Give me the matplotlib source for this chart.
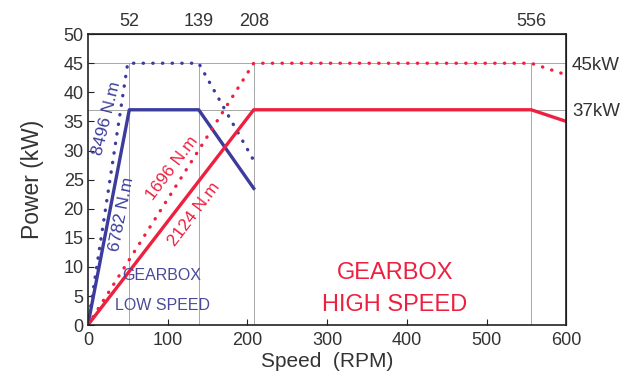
import numpy as np
import matplotlib
matplotlib.use('Agg')
from matplotlib import pyplot as plt

# data
low_solid_x = [0, 52, 139, 208]
low_solid_y = [0, 37, 37, 23.5]
low_dot_x = [0, 50, 139, 208]
low_dot_y = [0, 45, 45, 28.3]
high_solid_x = [0, 208, 556, 600]
high_solid_y = [0, 37, 37, 35]
high_dot_x = [0, 208, 556, 600]
high_dot_y = [0, 45, 45, 43]
top_ticks = [52, 139, 208, 556]
power_levels = [37, 45]

blue = '#3b3c9c'
red = '#ee2040'
grey = '#a8a8a8'
ink = '#333333'

plt.rcParams['font.family'] = ['Liberation Sans', 'DejaVu Sans']
plt.rcParams['text.color'] = ink

fig = plt.figure(figsize=(6.23, 3.75), dpi=100)
ax = fig.add_axes([0.141, 0.133, 0.768, 0.776])

for p in power_levels:
    ax.axhline(p, color=grey, lw=0.7, zorder=1)
for t in top_ticks:
    ax.plot([t, t], [0, 45], color=grey, lw=0.7, zorder=1)

dots = (0, (0.1, 2.8))
ax.plot(low_dot_x, low_dot_y, color=blue, lw=2.4, ls=dots, dash_capstyle='round')
ax.plot(low_solid_x, low_solid_y, color=blue, lw=2.4)
ax.plot(high_dot_x, high_dot_y, color=red, lw=2.4, ls=dots, dash_capstyle='round')
ax.plot(high_solid_x, high_solid_y, color=red, lw=2.4)

ax.text(24, 35.5, '8496 N.m', color=blue, rotation=76, fontsize=12.5, ha='center', va='center')
ax.text(43, 19, '6782 N.m', color=blue, rotation=79, fontsize=12.5, ha='center', va='center')
ax.text(106, 27, '1696 N.m', color=red, rotation=53, fontsize=12.5, ha='center', va='center')
ax.text(133, 19, '2124 N.m', color=red, rotation=53, fontsize=12.5, ha='center', va='center')

ax.text(93, 8.6, 'GEARBOX', color='#4a4a9a', fontsize=11.5, ha='center', va='center')
ax.text(93, 3.3, 'LOW SPEED', color='#4a4a9a', fontsize=11.5, ha='center', va='center')
ax.text(385, 8.9, 'GEARBOX', color=red, fontsize=17, ha='center', va='center')
ax.text(385, 3.4, 'HIGH SPEED', color=red, fontsize=17, ha='center', va='center')

ax.set_xlim(0, 600)
ax.set_ylim(0, 50)
ax.set_xticks(np.arange(0, 601, 100))
ax.set_yticks(np.arange(0, 51, 5))
ax.tick_params(direction='in', labelsize=13, length=4, pad=3, colors='#222222', labelcolor=ink)
ax.tick_params(axis='x', pad=5)
for s in ax.spines.values():
    s.set_linewidth(1.2)
    s.set_color('#222222')

top = ax.secondary_xaxis('top')
top.set_xticks(top_ticks)
top.tick_params(length=0, labelsize=13, pad=3, labelcolor=ink)

right = ax.secondary_yaxis('right')
right.set_yticks(power_levels)
right.set_yticklabels(['37kW', '45kW'])
right.tick_params(length=0, labelsize=13.5, pad=4, labelcolor=ink)

ax.set_xlabel('Speed  (RPM)', fontsize=15, labelpad=2, color=ink)
ax.set_ylabel('Power (kW)', fontsize=16.5, labelpad=14, color=ink)

fig.savefig('out.png', dpi=100)
